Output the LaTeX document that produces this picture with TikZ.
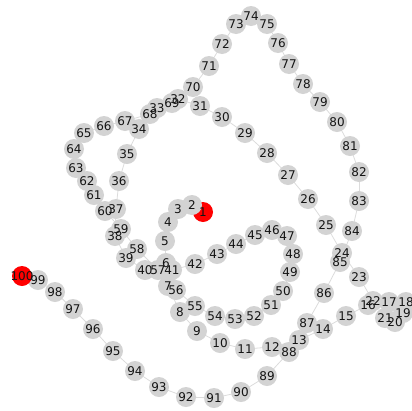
\documentclass[tikz,border=0pt]{standalone}
\usepackage{fontspec}
\setmainfont{DejaVu Sans}
\usepackage{tikz}
\usetikzlibrary{backgrounds}
\definecolor{nodegray}{RGB}{211,211,211}
\definecolor{nodered}{RGB}{255,0,0}
\definecolor{edgegray}{RGB}{220,220,220}
\definecolor{labelink}{RGB}{20,20,20}
\tikzset{
  vtx/.style={circle, fill=nodegray, draw=none, minimum size=20pt, inner sep=0pt},
  endvtx/.style={vtx, fill=nodered},
  vlabel/.style={font=\fontsize{12}{12}\selectfont, text=labelink, inner sep=0pt},
  edge/.style={draw=edgegray, line width=0.8pt}
}

\begin{document}
\begin{tikzpicture}[x=1pt, y=-1pt]
  \useasboundingbox (0,0) rectangle (412,410);
  % path nodes, 1 and 100 are the ends
  \foreach \i/\x/\y in {1/203/212, 2/192/205, 3/178/209, 4/168/222, 5/165/241,
      6/166/263, 7/168/286, 8/180/312, 9/197/331, 10/220/343, 11/245/349,
      12/272/347, 13/299/340, 14/323/329, 15/346/316, 16/368/305, 17/389/302,
      18/406/302, 19/403/313, 20/395/322, 21/385/318, 22/373/301, 23/359/277,
      24/342/253, 25/326/225, 26/308/199, 27/288/175, 28/267/153, 29/245/133,
      30/222/117, 31/200/106, 32/178/99, 33/157/108, 34/139/129, 35/127/154,
      36/119/181, 37/116/209, 38/115/236, 39/126/258, 40/145/270, 41/172/270,
      42/195/264, 43/217/254, 44/236/244, 45/255/235, 46/272/230, 47/287/236,
      48/293/254, 49/290/272, 50/283/291, 51/271/305, 52/254/316, 53/235/319,
      54/215/316, 55/195/306, 56/176/290, 57/158/270, 58/137/249, 59/121/229,
      60/105/211, 61/94/195, 62/87/181, 63/76/168, 64/74/149, 65/84/133,
      66/104/126, 67/125/121, 68/150/114, 69/172/103, 70/193/87, 71/209/66,
      72/222/44, 73/236/24, 74/251/16, 75/267/24, 76/278/43, 77/289/64,
      78/303/84, 79/320/102, 80/337/122, 81/350/146, 82/359/172, 83/359/201,
      84/352/231, 85/340/262, 86/324/293, 87/307/323, 88/289/352, 89/267/376,
      90/241/392, 91/214/398, 92/186/397, 93/159/387, 94/135/371, 95/113/351,
      96/93/329, 97/73/309, 98/55/292, 99/38/280, 100/22/276}{
    \ifnum\i=1 \def\vst{endvtx}\else\ifnum\i=100 \def\vst{endvtx}\else\def\vst{vtx}\fi\fi
    \node[\vst] (n\i) at (\x,\y) {};
  }

  % connectors behind the nodes
  \begin{pgfonlayer}{background}
    \foreach \i [evaluate=\i as \j using int(\i+1)] in {1,...,99}
      \draw[edge] (n\i.center) -- (n\j.center);
  \end{pgfonlayer}

  % labels on top of every node
  \foreach \i in {1,...,100}
    \node[vlabel] (t\i) at (n\i) {\i};
\end{tikzpicture}
\end{document}
